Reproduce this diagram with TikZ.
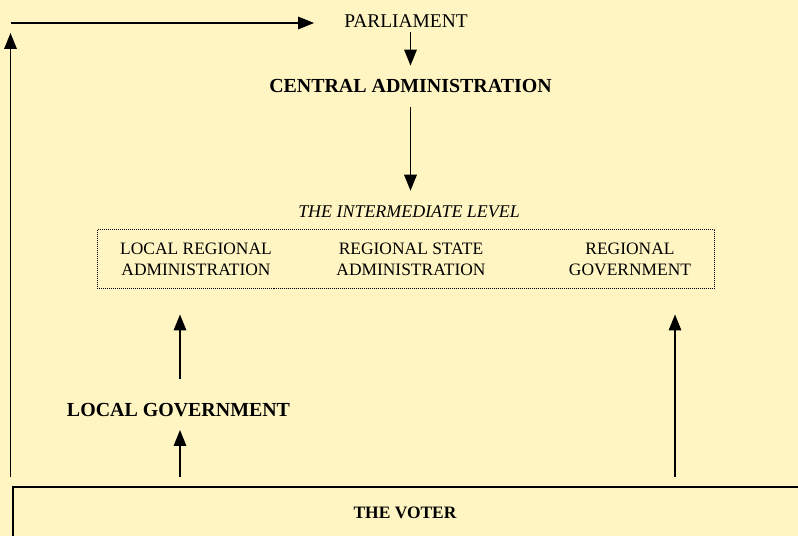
\documentclass[tikz,border=0pt]{standalone}
\usepackage{fontspec}
\setmainfont{Liberation Serif}
\usetikzlibrary{arrows.meta}
\definecolor{bg}{HTML}{FFF5C2}
\begin{document}
\begin{tikzpicture}[x=1bp,y=-1bp,
  txt/.style={inner sep=0pt, align=center},
  arr/.style={-{Triangle[length=16bp,width=12.5bp]}, line width=1.6bp},
  big/.style={font=\fontsize{19.5}{22}\selectfont},
  bigb/.style={font=\fontsize{20}{22}\selectfont\bfseries},
  mid/.style={font=\fontsize{17.5}{21}\selectfont},
  ital/.style={font=\fontsize{18}{21}\selectfont\itshape},
]
\useasboundingbox (0,0) rectangle (798,536);
\fill[bg] (0,0) rectangle (798,536);
\clip (0,0) rectangle (798,536);

\node[txt, big] (par) at (406,21.5) {PARLIAMENT};
\node[txt, bigb] (cen) at (410.5,86.5) {CENTRAL ADMINISTRATION};
\node[txt, ital] (inter) at (409,212) {THE INTERMEDIATE LEVEL};
\node[draw, line width=0.9bp, dash pattern=on 1bp off 1bp, inner sep=0pt,
      minimum width=617bp, minimum height=59bp] (box) at (406,258.5) {};
\node[txt, mid] (lra) at (196,259.5) {LOCAL REGIONAL\\ADMINISTRATION};
\node[txt, mid] (rsa) at (411,259.5) {REGIONAL STATE\\ADMINISTRATION};
\node[txt, mid] (rgv) at (630,259.5) {REGIONAL\\GOVERNMENT};
\node[txt, bigb] (lgov) at (178.5,410) {LOCAL GOVERNMENT};
\node[draw, line width=2bp, inner sep=0pt, anchor=north west,
      minimum width=820bp, minimum height=100bp] (vbox) at (12,486) {};
\node[txt, font=\fontsize{17.5}{20}\selectfont\bfseries] (voter) at (405,512.5) {THE VOTER};

\coordinate (lt) at (10.5,23);
\coordinate (rgx) at (675,0);
\coordinate (lgx) at (180,0);

% left feedback line
\draw[arr, shorten <=9bp, shorten >=10bp] (lt |- vbox.north) -- (lt);
\draw[arr, shorten >=30bp] (lt) -- (lt -| par.west);

% top chain
\draw[arr, shorten <=4bp, shorten >=14bp] (par.south -| cen.north) -- (cen.north);
\draw[arr, shorten <=14bp, shorten >=15bp] (cen.south) -- (cen.south |- inter.north);

% up arrows
\draw[arr, shorten <=24bp, shorten >=26bp] (lgx |- lgov.north) -- (lgx |- box.south);
\draw[arr, shorten <=9bp, shorten >=13bp] (lgx |- vbox.north) -- (lgx |- lgov.south);
\draw[arr, shorten <=9bp, shorten >=26bp] (rgx |- vbox.north) -- (rgx |- box.south);
\end{tikzpicture}
\end{document}
